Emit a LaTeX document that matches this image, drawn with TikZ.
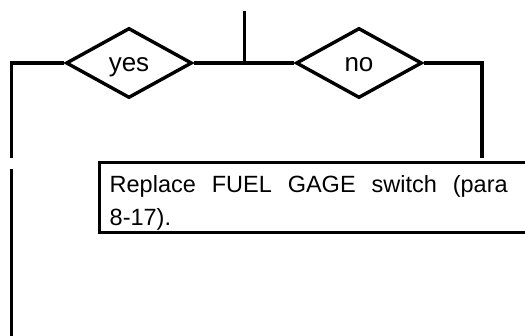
\documentclass[tikz,border=0pt]{standalone}
\usepackage{fontspec}
\setmainfont{Liberation Sans}
\usetikzlibrary{shapes.geometric, positioning}

\begin{document}
\begin{tikzpicture}[x=1pt, y=-1pt,
    wire/.style={line width=3.4pt},
    decision/.style={diamond, draw, line width=3.4pt, aspect=1.8, inner sep=0pt,
        minimum width=126pt, minimum height=70pt, font=\fontsize{26}{30}\selectfont,
        text height=17pt, text depth=0pt},
    action/.style={rectangle, inner xsep=10pt, inner ysep=0pt, text width=398pt,
        align=justify, font=\fontsize{23.5}{33}\selectfont,
        text height=29.5pt, text depth=40pt}]

    \useasboundingbox (0, 0) rectangle (525, 335);

    % --- Decisions ---
    \node[decision] (yes) at (129, 63) {yes};
    \node[decision] (no) at (359, 63) {no};

    % --- Action box ---
    \node[action, anchor=north west] (gage) at (99.5, 162.5)
        {Replace FUEL GAGE switch (para\linebreak 8-17).};
    \draw[wire] (gage.north west) rectangle ([xshift=40pt]gage.south east);

    % --- Wire ends ---
    \coordinate (stem) at (244.5, 11);
    \coordinate (split) at (244.5, 63);
    \coordinate (yesend) at (11.5, 158);
    \coordinate (noend) at (482, 158);
    \coordinate (yesgo) at (11.5, 169);
    \coordinate (yesdown) at (11.5, 340);

    % --- Wires ---
    \draw[wire] (stem) -- (split);
    \draw[wire] (yes.east) -- (no.west);
    \draw[wire] (yes.west) -| (yesend);
    \draw[wire] (no.east) -| (noend);
    \draw[wire] (yesgo) -- (yesdown);

\end{tikzpicture}
\end{document}
